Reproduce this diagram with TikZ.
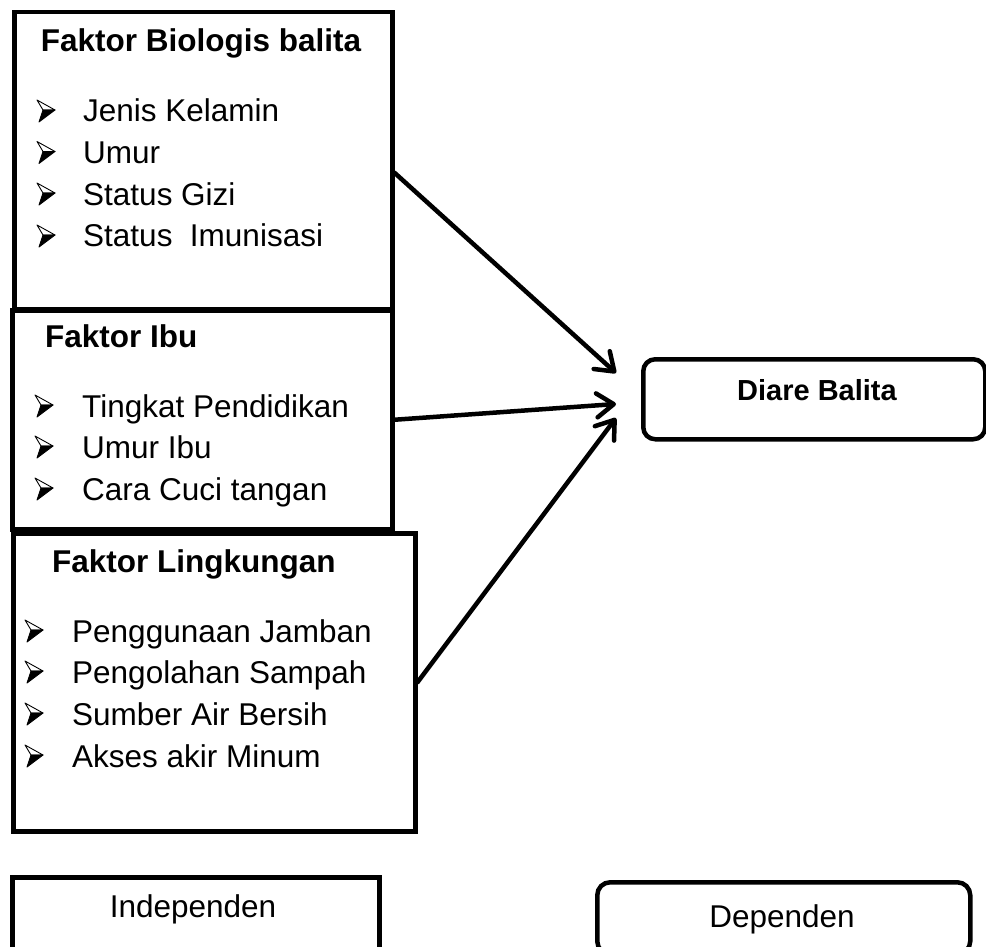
\documentclass[tikz,border=0pt]{standalone}
\usepackage{fontspec}
\setmainfont{Liberation Sans}
\usetikzlibrary{arrows.meta}

\begin{document}
\begin{tikzpicture}[x=1pt, y=-1pt,
	kotak/.style = {shape=rectangle, draw, line width=4.5pt, anchor=north west, inner sep=0pt},
	bulat/.style = {kotak, rounded corners=12pt},
	tulis/.style = {inner sep=0pt, anchor=base west, font=\fontsize{31.5}{38}\selectfont},
	judul/.style = {tulis, font=\fontsize{31.5}{38}\selectfont\bfseries},
	panah/.style = {line width=4.5pt, line cap=round, -{Straight Barb[length=17pt, width=24pt, round]}},
	tanda/.pic = {
		\filldraw[line width=0.9pt, line join=round] (6,-12) -- (18,-12) -- (2,0) -- cycle;
		\draw[line width=0.9pt, line join=round] (0,-22) -- (18,-12) -- (6,-12) -- cycle;
	}]
\clip (0,0) rectangle (986,947);
\node[kotak, minimum width=378pt, minimum height=297pt] (bio) at (12,10) {};
\node[kotak, minimum width=380pt, minimum height=219pt] (ibu) at (10,308) {};
\node[kotak, minimum width=402pt, minimum height=298pt] (ling) at (11,531) {};
\node[bulat, minimum width=342pt, minimum height=80pt] (diare) at (641,357) {};
\node[kotak, minimum width=367pt, minimum height=75pt] (indep) at (10,875) {};
\node[bulat, rounded corners=13pt, minimum width=373pt, minimum height=72pt] (dep) at (595,880) {};

\node[judul, anchor=base] (biojudul) at (201,52) {Faktor Biologis balita};
\node[tulis] (bio1) at (83,122) {Jenis Kelamin};
\node[tulis] (bio2) at (83,163.5) {Umur};
\node[tulis] (bio3) at (83,205) {Status Gizi};
\node[tulis] (bio4) at (83,247) {Status\ \ Imunisasi};
\pic at (37,122) {tanda};
\pic at (37,163.5) {tanda};
\pic at (37,205) {tanda};
\pic at (37,247) {tanda};

\node[judul] (ibujudul) at (45,347) {Faktor Ibu};
\node[tulis] (ibu1) at (82,417) {Tingkat Pendidikan};
\node[tulis] (ibu2) at (82,458) {Umur Ibu};
\node[tulis] (ibu3) at (82,500) {Cara Cuci tangan};
\pic at (35,417) {tanda};
\pic at (35,458) {tanda};
\pic at (35,500) {tanda};

\node[judul] (lingjudul) at (52,572) {Faktor Lingkungan};
\node[tulis] (ling1) at (72,642) {Penggunaan Jamban};
\node[tulis] (ling2) at (72,683) {Pengolahan Sampah};
\node[tulis] (ling3) at (72,725) {Sumber Air Bersih};
\node[tulis] (ling4) at (72,767) {Akses akir Minum};
\pic at (25,642) {tanda};
\pic at (25,683) {tanda};
\pic at (25,725) {tanda};
\pic at (25,767) {tanda};

\node[judul, anchor=base, font=\fontsize{29}{34}\selectfont\bfseries] (diarejudul) at (817,400) {Diare Balita};
\node[tulis, anchor=base] (indeptulis) at (193,917) {Independen};
\node[tulis, anchor=base] (deptulis) at (782,927) {Dependen};

\coordinate (t1) at (616,373);
\coordinate (t2) at (616,404);
\coordinate (t3) at (616,418);
\draw[panah] ([yshift=-12pt]bio.east) -- (t1);
\draw[panah] (ibu.east) -- (t2);
\draw[panah] (ling.east) -- (t3);
\end{tikzpicture}
\end{document}
